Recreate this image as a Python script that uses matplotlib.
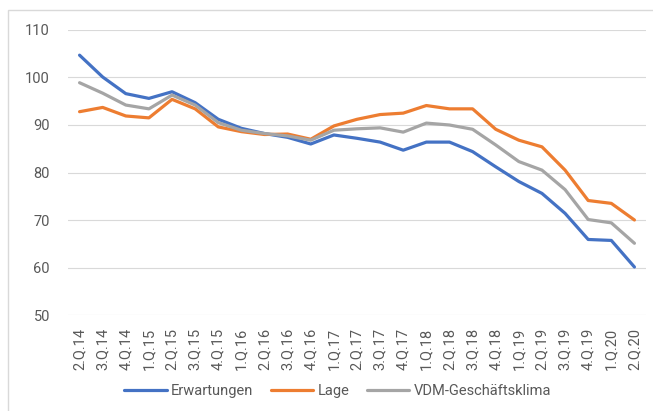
import matplotlib
matplotlib.use("Agg")
import matplotlib.pyplot as plt
from matplotlib.patches import Rectangle

quarters = ["2.Q.14", "3.Q.14", "4.Q.14", "1.Q.15", "2.Q.15", "3.Q.15", "4.Q.15",
            "1.Q.16", "2.Q.16", "3.Q.16", "4.Q.16", "1.Q.17", "2.Q.17", "3.Q.17",
            "4.Q.17", "1.Q.18", "2.Q.18", "3.Q.18", "4.Q.18", "1.Q.19", "2.Q.19",
            "3.Q.19", "4.Q.19", "1.Q.20", "2.Q.20"]
erwartungen = [104.7, 100.1, 96.6, 95.6, 97.0, 94.7, 91.2, 89.3, 88.2, 87.4, 86.0,
               87.9, 87.2, 86.4, 84.7, 86.4, 86.4, 84.4, 81.2, 78.1, 75.6, 71.4,
               65.9, 65.7, 60.1]
lage = [92.8, 93.7, 91.9, 91.5, 95.4, 93.4, 89.6, 88.6, 88.0, 88.1, 87.0,
        89.8, 91.2, 92.2, 92.5, 94.1, 93.4, 93.4, 89.1, 86.8, 85.4, 80.5,
        74.1, 73.5, 70.0]
klima = [98.9, 96.7, 94.2, 93.4, 96.3, 94.2, 90.5, 88.9, 88.2, 87.7, 86.8,
         88.9, 89.2, 89.4, 88.5, 90.4, 90.0, 89.1, 85.8, 82.3, 80.5, 76.4,
         70.1, 69.4, 65.1]
yticks = [50, 60, 70, 80, 90, 100, 110]

plt.rcParams['font.family'] = ['Roboto', 'DejaVu Sans']

fig = plt.figure(figsize=(6.53, 4.11), dpi=100)
fig.patches.append(Rectangle((8/653, -0.1), 1.2, 1 - 10/411 + 0.1, transform=fig.transFigure,
                             fill=False, edgecolor='#D9D9D9', linewidth=1.0))
ax = fig.add_axes([68/653, 1-315/411, 578/653, 285/411])

x = list(range(len(quarters)))
ax.plot(x, erwartungen, color='#4472C4', lw=2.3, label='Erwartungen', solid_capstyle='round')
ax.plot(x, lage, color='#ED7D31', lw=2.3, label='Lage', solid_capstyle='round')
ax.plot(x, klima, color='#A5A5A5', lw=2.3, label='VDM-Geschäftsklima', solid_capstyle='round')

ax.set_xlim(-0.5, len(quarters) - 0.5)
ax.set_ylim(50, 110)
ax.set_yticks(yticks)
ax.set_xticks(x)
ax.set_xticklabels(quarters, rotation=90)
ax.tick_params(axis='y', length=0, labelsize=10.5, colors='#595959', pad=13)
ax.tick_params(axis='x', length=0, labelsize=10.5, colors='#595959', pad=9)
ax.grid(axis='y', color='#D9D9D9', lw=0.8)
ax.set_axisbelow(True)
for s in ax.spines.values():
    s.set_visible(False)

leg = fig.legend(loc='center', bbox_to_anchor=(0.517, 20/411), ncol=3, frameon=False,
                 fontsize=10.5, handlelength=2.9, columnspacing=1.2, handletextpad=0.3)
for t in leg.get_texts():
    t.set_color('#595959')

fig.savefig('out.png', dpi=100)
